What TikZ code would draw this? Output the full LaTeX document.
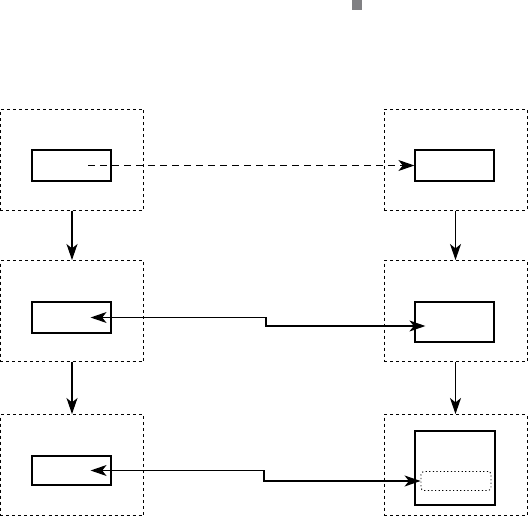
\documentclass[tikz,border=0pt]{standalone}
\usetikzlibrary{arrows.meta}
\definecolor{markgray}{RGB}{128,128,131}

\begin{document}
\begin{tikzpicture}[x=0.5mm,y=-0.5mm]
        \tikzset{stage/.style = {shape=rectangle,draw,line width=0.5mm,dash pattern=on 1.5mm off 1.5mm,minimum width=71.5mm,minimum height=50.5mm,inner sep=0pt}};
        \tikzset{unit/.style = {shape=rectangle,draw,line width=0.6mm,minimum width=39.5mm,minimum height=15.5mm,inner sep=0pt}};
        \tikzset{edge/.style = {-{Stealth[length=8mm,width=5.5mm,inset=2.2mm]},line width=0.55mm}};
        \tikzset{twoway/.style = {{Stealth[length=8mm,width=5.5mm,inset=2.2mm]}-{Stealth[length=8mm,width=5.5mm,inset=2.2mm]},line width=0.55mm}};
        \useasboundingbox (0,0) rectangle (528,517);
        \node[fill=markgray,minimum width=5mm,minimum height=5mm,inner sep=0pt] (flag) at (357,5) {};
        % outer stages
        \node[stage] (s1) at (72,159.5) {};
        \node[stage] (s2) at (72,311) {};
        \node[stage] (s3) at (72,465) {};
        \node[stage] (t1) at (455.5,159.5) {};
        \node[stage] (t2) at (455.5,311) {};
        \node[stage] (t3) at (455.5,465) {};
        % inner units
        \node[unit] (a1) at (71.5,165.5) {};
        \node[unit] (a2) at (71.5,317.5) {};
        \node[unit,minimum height=14.5mm] (a3) at (71.5,470.5) {};
        \node[unit] (b1) at (454.5,165.5) {};
        \node[unit,minimum height=20mm] (b2) at (454.5,322) {};
        \node[unit,minimum width=40mm,minimum height=37mm] (b3) at (455,468) {};
        \node[shape=rectangle,draw,rounded corners=1.5mm,line width=0.45mm,dash pattern=on 0.6mm off 1.2mm,minimum width=35mm,minimum height=9.5mm,inner sep=0pt] (slot) at (456,481) {};
        \coordinate (k2) at (266,326);
        \coordinate (k3) at (264,481);
        \draw[edge] (s1) -- (s2);
        \draw[edge] (s2) -- (s3);
        \draw[edge] (t1) -- (t2);
        \draw[edge] (t2) -- (t3);
        \draw[edge,dash pattern=on 3.5mm off 2.5mm] ([xshift=8.25mm]a1.center) -- (b1.west);
        \draw[twoway] ([xshift=-10.5mm]a2.east) -| (k2) -- ([xshift=5.5mm]b2.west |- k2);
        \draw[twoway] ([xshift=-10.5mm]a3.east) -| (k3) -- (slot.west);
    \end{tikzpicture}
\end{document}
